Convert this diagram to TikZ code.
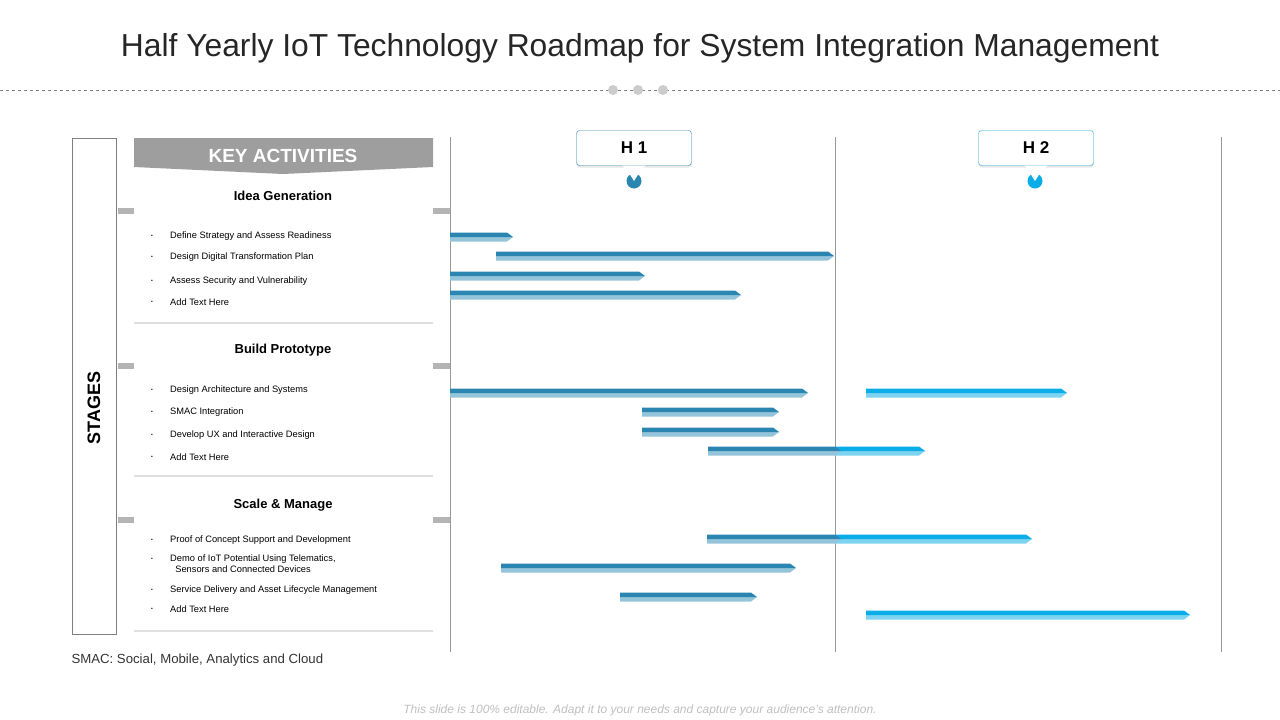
\documentclass[tikz,border=0pt]{standalone}
\usepackage{fontspec}
\setmainfont{Liberation Sans}
\usetikzlibrary{calc,positioning,shadows}
\definecolor{hdark}{HTML}{2A86B0}
\definecolor{hlight}{HTML}{94C4DA}
\definecolor{hbright}{HTML}{0AADE8}
\definecolor{hpale}{HTML}{7DD3F0}
\definecolor{tabgray}{HTML}{B4B4B4}
\newcommand{\roadbar}[5]{% x1, x2, y, dark, light
	\fill[#5] (#1,#3) -- (#2+6,#3) -- (#2,#3+4.5) -- (#1,#3+4.5) -- cycle;
	\fill[#4] (#1,#3-4.5) -- (#2,#3-4.5) -- (#2+6,#3) -- (#1,#3) -- cycle;
}
\begin{document}
\begin{tikzpicture}[x=1pt,y=-1pt,font=\fontsize{9}{11}\selectfont]
	\tikzstyle{card} = [fill=white,drop shadow={shadow xshift=0pt,shadow yshift=-2pt,opacity=.25}]
	\tikzstyle{tab} = [fill=tabgray]
	\tikzstyle{item} = [anchor=west,inner sep=0pt,align=left,font=\fontsize{9.3}{11}\selectfont]
	\tikzstyle{head} = [font=\fontsize{13}{15}\selectfont\bfseries]
	\tikzstyle{grid} = [draw=black!40,line width=.8pt]
	\tikzstyle{halfbox} = [draw=hdark,rounded corners=3pt,fill=white,minimum width=115pt,minimum height=35pt,font=\fontsize{17}{19}\selectfont\bfseries,drop shadow={shadow xshift=0pt,shadow yshift=-2pt,opacity=.2}]
	\useasboundingbox (0,0) rectangle (1280,720);

	% title
	\node[font=\fontsize{31.8}{36}\selectfont,text=black!85] (Title) at (640,48) {Half Yearly IoT Technology Roadmap for System Integration Management};
	\draw[black!50,dashed,line width=.8pt] (0,90) -- (1280,90);
	\foreach \x in {613,638,663} \fill[black!20] (\x,90) circle (5);

	% grid
	\foreach \x in {450,835,1221} \draw[grid] (\x,137) -- (\x,652);

	% stages
	\draw[black!50] (72,138) rectangle (116,634);
	\node[rotate=90,font=\fontsize{18}{20}\selectfont\bfseries] (Stages) at (94,408) {STAGES};

	% cards
	\foreach \top/\bot/\tab in {172/322/211,338/475/366,492/630/520} {
		\fill[tab] (118,\tab-3) rectangle (450,\tab+3);
		\fill[card] (134,\top) rectangle (433,\bot);
	}
	\fill[black!38] (134,138) -- (433,138) -- (433,167) -- (283,174) -- (134,167) -- cycle;
	\node[white,font=\fontsize{19}{21}\selectfont\bfseries] (KeyAct) at (283,156) {KEY ACTIVITIES};

	\node[head] (Idea) at (283,196) {Idea Generation};
	\node[head] (Build) at (283,350) {Build Prototype};
	\node[head] (Scale) at (283,505) {Scale \& Manage};

	\foreach \y/\t in {236/Define Strategy and Assess Readiness,257/Design Digital Transformation Plan,281/Assess Security and Vulnerability,302/Add Text Here,
		390/Design Architecture and Systems,412/SMAC Integration,435/Develop UX and Interactive Design,457/Add Text Here,
		540/Proof of Concept Support and Development,590/Service Delivery and Asset Lifecycle Management,609/Add Text Here} {
		\node[item,font=\tiny] at (151,\y) {\textbullet};
		\node[item] at (170,\y) {\t};
	}
	\node[item,font=\tiny] at (151,559) {\textbullet};
	\node[item] (Demo) at (170,564) {Demo of IoT Potential Using Telematics,\\\ \ Sensors and Connected Devices};

	% half year markers
	\fill[hdark] (634,181) circle (7.5);
	\fill[white] (629,173) -- (639,173) -- (634,181) -- cycle;
	\fill[hbright] (1035,181) circle (7.5);
	\fill[white] (1030,173) -- (1040,173) -- (1035,181) -- cycle;
	\node[halfbox] (H1) at (634,148) {H 1};
	\node[halfbox,draw=hbright] (H2) at (1036,148) {H 2};
	\fill[white] (622,165.5) -- (646,165.5) -- (634,175) -- cycle;
	\fill[white] (1024,165.5) -- (1048,165.5) -- (1036,175) -- cycle;

	% bars
	\roadbar{450}{507}{237}{hdark}{hlight}
	\roadbar{496}{828}{256}{hdark}{hlight}
	\roadbar{450}{639}{276}{hdark}{hlight}
	\roadbar{450}{735}{295}{hdark}{hlight}
	\roadbar{450}{802}{393}{hdark}{hlight}
	\roadbar{866}{1061}{393}{hbright}{hpale}
	\roadbar{642}{773}{412}{hdark}{hlight}
	\roadbar{642}{773}{432}{hdark}{hlight}
	\roadbar{835}{919}{451}{hbright}{hpale}
	\roadbar{708}{835}{451}{hdark}{hlight}
	\roadbar{835}{1026}{539}{hbright}{hpale}
	\roadbar{707}{835}{539}{hdark}{hlight}
	\roadbar{501}{790}{568}{hdark}{hlight}
	\roadbar{620}{751}{597}{hdark}{hlight}
	\roadbar{866}{1184}{615}{hbright}{hpale}

	% notes
	\node[anchor=west,font=\fontsize{13.2}{15}\selectfont,text=black!80] (Note) at (68,660) {SMAC: Social, Mobile, Analytics and Cloud};
	\node[font=\fontsize{12}{14}\selectfont\itshape,text=black!25] (Foot) at (640,710) {This slide is 100\% editable. Adapt it to your needs and capture your audience's attention.};
\end{tikzpicture}
\end{document}
